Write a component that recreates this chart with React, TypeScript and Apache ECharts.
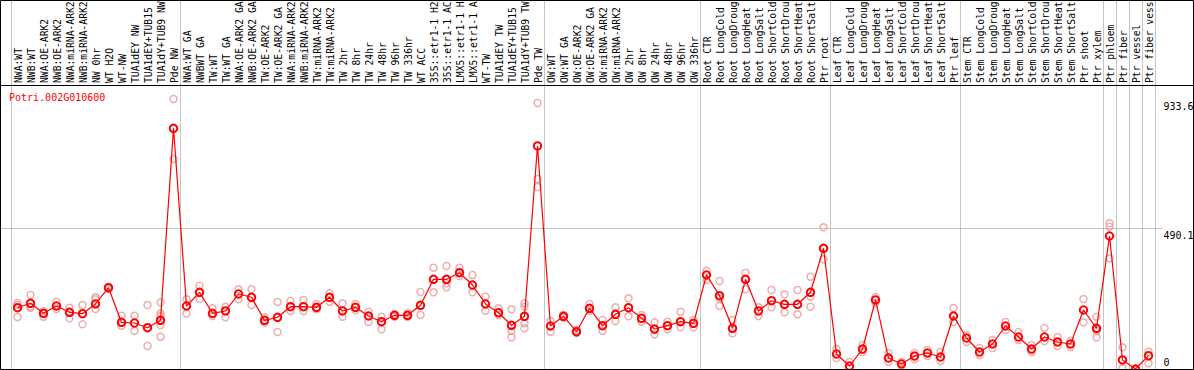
import React, { useEffect, useRef } from 'react';
import * as echarts from 'echarts';

const geneId = 'Potri.002G010600';

// Header labels as visible in the reference (long names are cut at the top edge there)
const categories = [
  'NWA:WT', 'NWB:WT', 'NWA:OE-ARK2', 'NWB:OE-ARK2', 'NWA:miRNA-ARK2', 'NWB:miRNA-ARK2', 'NW 0hr', 'WT H2O', 'WT-NW', 'TUA1dEY NW', 'TUA1dEY+TUB15', 'TUA1dY+TUB9 NW', 'Pde NW',
  'NWA:WT GA', 'NWBWT GA', 'TW:WT', 'TW:WT GA', 'NWA:OE-ARK2 GA', 'NWB:OE-ARK2 GA', 'TW:OE-ARK2', 'TW:OE-ARK2 GA', 'NWA:miRNA-ARK2', 'NWB:miRNA-ARK2', 'TW:miRNA-ARK2', 'TW:miRNA-ARK2', 'TW 2hr', 'TW 8hr', 'TW 24hr', 'TW 48hr', 'TW 96hr', 'TW 336hr', 'WT ACC', '35S::etr1-1 H2', '35S::etr1-1 AC', 'LMX5::etr1-1 H', 'LMX5::etr1-1 A', 'WT-TW', 'TUA1dEY TW', 'TUA1dEY+TUB15', 'TUA1dY+TUB9 TW', 'Pde TW',
  'OW:WT', 'OW:WT GA', 'OW:OE-ARK2', 'OW:OE-ARK2 GA', 'OW:miRNA-ARK2', 'OW:miRNA-ARK2', 'OW 2hr', 'OW 8hr', 'OW 24hr', 'OW 48hr', 'OW 96hr', 'OW 336hr',
  'Root CTR', 'Root LongCold', 'Root LongDroug', 'Root LongHeat', 'Root LongSalt', 'Root ShortCold', 'Root ShortDrou', 'Root ShortHeat', 'Root ShortSalt', 'Ptr root',
  'Leaf CTR', 'Leaf LongCold', 'Leaf LongDroug', 'Leaf LongHeat', 'Leaf LongSalt', 'Leaf ShortCold', 'Leaf ShortDrou', 'Leaf ShortHeat', 'Leaf ShortSalt', 'Ptr leaf',
  'Stem CTR', 'Stem LongCold', 'Stem LongDroug', 'Stem LongHeat', 'Stem LongSalt', 'Stem ShortCold', 'Stem ShortDrou', 'Stem ShortHeat', 'Stem ShortSalt', 'Ptr shoot', 'Ptr xylem',
  'Ptr phloem', 'Ptr fiber', 'Ptr vessel', 'Ptr fiber vess',
];

const meanValues = [
  214.6, 229.8, 195.3, 220.5, 198.8, 194.0, 227.4, 283.5, 164.3, 161.9, 145.7, 171.2, 832.7,
  220.5, 267.7, 195.3, 203.3, 261.8, 250.5, 171.2, 181.6, 218.1, 218.1, 216, 250.5, 203.3, 216, 186, 166.4, 188.4, 188.4, 222.9, 312.5, 312.5, 335.2, 292.8, 227.4, 197.4, 154, 185, 771.7,
  151.6, 185, 131.9, 212.6, 152.6, 191.9, 214.6, 178.1, 141.2, 152.6, 166.4, 160.9,
  327.3, 256, 143.7, 312.5, 203.3, 238.7, 226.3, 226.3, 267.7, 419.3,
  55.1, 13.8, 72.3, 241.2, 41.3, 20.7, 48.2, 58.6, 44.8, 186,
  110.2, 62, 89.6, 151.6, 113.7, 72.3, 113.7, 96.5, 89.6, 206.7, 143.7,
  461.6, 34.5, 3.4, 49.3,
];

const replicateValues = [
  [230.8, 223.9, 182.6], [258.4, 218.1, 214.6], [203.3, 183.6], [235.3, 210.1], [214.6, 178.1],
  [223.9, 157.4], [250.5, 243.6, 210.1], [285.9, 279], [187.1, 152.6], [187.1, 135.4],
  [223.9, 144.7, 82.7], [233.2, 195.3, 186, 155, 114.7], [933.6, 726.9],
  [243.6, 194.6], [290.4, 244.6], [212.6, 186], [218.1, 181.6], [278, 243.6], [278, 223.9],
  [181.6, 163], [234.3, 130.9], [237.7, 203.3], [241.2, 203.3], [227.4, 209.1], [264.2, 235.3],
  [229.8, 183.6], [227.4, 206.7], [200.8, 165.4], [183.6, 140.2], [192.9, 183.6], [196.4, 182.6],
  [268.7, 189.5], [352.4, 267.7], [358.3, 298.7, 284.9], [352.4, 323.8], [327.3, 267.7],
  [252.5, 204.3], [212.6, 189.5], [209.1, 135.4, 112.7], [229.8, 218.1, 160.9, 143.7], [919.8, 658, 630.4],
  [168.8, 131.9], [189.5, 180], [137.8, 128], [227.4, 203.3], [172.3, 135.4], [216, 168.8],
  [247, 185], [189.5, 166.4], [164.3, 123], [166.4, 140.2], [200.8, 147.1], [172.3, 147.1],
  [342.1, 310.1], [306.6, 247, 220.5], [172.3, 126.4], [335.2, 278], [216, 186], [275.6, 216],
  [260.8, 198.8], [275.6, 191.9], [321.4, 252.5, 218.1], [491.6, 381.4],
  [72.3, 41.3], [27.6, 6.9], [86.1, 62], [251.5, 230.8], [58.6, 27.6], [27.6, 13.8],
  [58.6, 37.9], [68.9, 48.2], [62, 31], [213.6, 165.4],
  [120.6, 96.5], [75.8, 51.7], [103.4, 75.8], [165.4, 137.8], [130.9, 103.4], [86.1, 62],
  [144.7, 99.9], [113.7, 82.7], [99.9, 79.2], [244.6, 164.3], [183.6, 134.4, 112.7],
  [505.4, 493.7, 384.8], [78.2, 5.9], [0, 2], [63, 23.1],
];

const groupBoundaries = [0, 13, 41, 53, 63, 73, 84, 85, 86, 87, 88];
const yLabelValues = [933.6, 490.1, 0];
const gridlineValues = [490.1];
const yMax = 981.8;

const W = 1194;
const H = 370;
const HEADER = 85;
const FONT = '"DejaVu Sans Mono", "Liberation Mono", monospace';

export default function App() {
  const ref = useRef<HTMLDivElement>(null);

  useEffect(() => {
    const el = ref.current as HTMLDivElement;
    const chart = echarts.init(el, null, { renderer: 'svg' });

    const repData: number[][] = [];
    replicateValues.forEach((arr, i) => arr.forEach((v) => repData.push([i, v])));

    chart.setOption({
      animation: false,
      backgroundColor: '#ffffff',
      grid: { left: 11, right: 39, top: HEADER, bottom: 0, outerBoundsMode: 'none', containLabel: false },
      xAxis: {
        type: 'category',
        data: categories,
        boundaryGap: true,
        axisLine: { show: false },
        axisTick: { show: false },
        splitLine: { show: false },
        axisLabel: { show: false },
      },
      yAxis: {
        type: 'value',
        min: 0,
        max: yMax,
        axisLine: { show: false },
        axisTick: { show: false },
        splitLine: { show: false },
        axisLabel: { show: false },
      },
      series: [
        {
          type: 'scatter',
          data: repData,
          symbol: 'circle',
          symbolSize: 7,
          itemStyle: { color: 'rgba(0,0,0,0)', borderColor: '#e99a9a', borderWidth: 1.5 },
          silent: true,
          z: 2,
        },
        {
          type: 'line',
          data: meanValues,
          symbol: 'circle',
          symbolSize: 7.5,
          lineStyle: { color: '#ff0000', width: 1.2 },
          itemStyle: { color: 'rgba(0,0,0,0)', borderColor: '#ff0000', borderWidth: 2 },
          silent: true,
          z: 3,
        },
      ],
    });

    const p0 = chart.convertToPixel({ xAxisIndex: 0 }, 0) as number;
    const p1 = chart.convertToPixel({ xAxisIndex: 0 }, 1) as number;
    const bw = p1 - p0;
    const cx = (i: number) => p0 + i * bw;
    const bx = (b: number) => Math.round(p0 + (b - 0.5) * bw) + 0.5;
    const py = (v: number) => chart.convertToPixel({ yAxisIndex: 0 }, v) as number;
    const rightX = bx(88);

    const graphics: any[] = [];
    groupBoundaries.forEach((b) => {
      graphics.push({
        type: 'line',
        shape: { x1: bx(b), y1: 0, x2: bx(b), y2: H },
        style: { stroke: '#c4c4c4', lineWidth: 1 },
        z: 1,
      });
    });
    gridlineValues.forEach((v) => {
      const y = Math.round(py(v)) + 0.5;
      graphics.push({
        type: 'line',
        shape: { x1: 0, y1: y, x2: rightX + 7, y2: y },
        style: { stroke: '#c4c4c4', lineWidth: 1 },
        z: 1,
      });
    });
    categories.forEach((name, i) => {
      graphics.push({
        type: 'text',
        x: Math.round(cx(i)),
        y: HEADER - 2,
        rotation: Math.PI / 2,
        style: {
          text: name,
          fill: '#000000',
          font: `9.7px ${FONT}`,
          textAlign: 'left',
          textVerticalAlign: 'middle',
        },
        z: 10,
      });
    });
    graphics.push({
      type: 'line',
      shape: { x1: 0, y1: HEADER + 0.5, x2: W, y2: HEADER + 0.5 },
      style: { stroke: '#000000', lineWidth: 1 },
      z: 10,
    });
    graphics.push({
      type: 'rect',
      shape: { x: 0.5, y: 0.5, width: W - 1, height: H - 1 },
      style: { fill: 'none', stroke: '#000000', lineWidth: 1 },
      z: 10,
    });
    graphics.push({
      type: 'text',
      x: 9,
      y: 97,
      style: {
        text: geneId,
        fill: '#ff0000',
        font: `10px ${FONT}`,
        textAlign: 'left',
        textVerticalAlign: 'middle',
      },
      z: 10,
    });
    yLabelValues.forEach((v) => {
      const top = Math.min(py(v) + 3, H - 13);
      graphics.push({
        type: 'text',
        x: rightX + 8,
        y: top,
        style: {
          text: String(v),
          fill: '#000000',
          font: `10px ${FONT}`,
          textAlign: 'left',
          textVerticalAlign: 'top',
        },
        z: 10,
      });
    });

    chart.setOption({ graphic: graphics });

    return () => {
      chart.dispose();
    };
  }, []);

  return (
    <div
      ref={ref}
      style={{ position: 'absolute', left: 0, top: 0, width: W, height: H, background: '#fff' }}
    />
  );
}
